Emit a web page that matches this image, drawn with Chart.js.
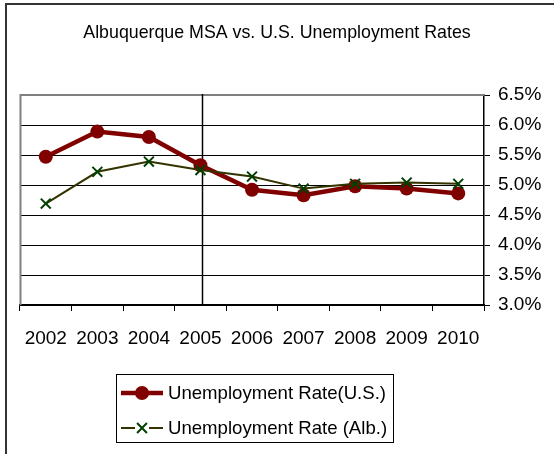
<!DOCTYPE html>
<html>
<head>
<meta charset="utf-8">
<script src="https://cdn.jsdelivr.net/npm/chart.js@4/dist/chart.umd.min.js"></script>
<style>
html,body{margin:0;padding:0;background:#fff;}
#wrap{width:554px;height:454px;position:relative;}
</style>
</head>
<body>
<div id="wrap"><canvas id="c" width="554" height="454"></canvas></div>
<script>
const years = ['2002','2003','2004','2005','2006','2007','2008','2009','2010'];
const usRate = [5.47, 5.89, 5.80, 5.33, 4.92, 4.83, 4.98, 4.94, 4.86];
const albRate = [4.69, 5.22, 5.39, 5.25, 5.14, 4.94, 5.02, 5.04, 5.02];
const yMin = 3.0, yMax = 6.5, yStep = 0.5;
const titleText = 'Albuquerque MSA vs. U.S. Unemployment Rates';
const usLabel = 'Unemployment Rate(U.S.)';
const albLabel = 'Unemployment Rate (Alb.)';
const markerYear = '2005';

const FONT = '"Liberation Sans", Arial, sans-serif';
const US_COLOR = '#800000';
const ALB_LINE = '#333300';
const ALB_MARK = '#004000';

const decor = {
  id: 'decor',
  beforeDatasetsDraw(chart) {
    const {ctx, chartArea: a, scales: {x}} = chart;
    ctx.save();
    ctx.strokeStyle = '#808080';
    ctx.lineWidth = 2;
    ctx.beginPath();
    ctx.moveTo(a.left + 0.5, a.bottom);
    ctx.lineTo(a.left + 0.5, a.top);
    ctx.lineTo(a.right, a.top);
    ctx.stroke();
    const px = Math.round(x.getPixelForValue(years.indexOf(markerYear))) + 2.5;
    ctx.strokeStyle = '#000';
    ctx.lineWidth = 1.5;
    ctx.beginPath();
    ctx.moveTo(px, a.top - 1);
    ctx.lineTo(px, a.bottom);
    ctx.stroke();
    ctx.restore();
  },
  afterDraw(chart) {
    const ctx = chart.ctx;
    ctx.save();
    // title
    ctx.fillStyle = '#000';
    ctx.font = '17.8px ' + FONT;
    ctx.textAlign = 'center';
    ctx.textBaseline = 'middle';
    ctx.fillText(titleText, 277, 33);
    // outer frame
    ctx.strokeStyle = '#333';
    ctx.lineWidth = 2;
    ctx.beginPath();
    ctx.moveTo(6, 454);
    ctx.lineTo(6, 4);
    ctx.lineTo(554, 4);
    ctx.stroke();
    // legend
    const bx = 116.5, by = 374.5, bw = 277, bh = 68;
    ctx.strokeStyle = '#000';
    ctx.lineWidth = 1;
    ctx.strokeRect(bx, by, bw, bh);
    const ds = chart.data.datasets;
    const rows = [393, 428];
    const lx0 = 121, lx1 = 163, mx = 142, tx = 168;
    ctx.strokeStyle = ds[0].borderColor;
    ctx.lineWidth = ds[0].borderWidth;
    ctx.beginPath(); ctx.moveTo(lx0, rows[0]); ctx.lineTo(lx1, rows[0]); ctx.stroke();
    ctx.fillStyle = ds[0].pointBackgroundColor;
    ctx.beginPath(); ctx.arc(mx, rows[0], ds[0].pointRadius, 0, Math.PI * 2); ctx.fill();
    ctx.strokeStyle = ds[1].borderColor;
    ctx.lineWidth = ds[1].borderWidth;
    ctx.beginPath(); ctx.moveTo(lx0, rows[1]); ctx.lineTo(mx - 7, rows[1]); ctx.moveTo(mx + 7, rows[1]); ctx.lineTo(lx1, rows[1]); ctx.stroke();
    const r = ds[1].pointRadius;
    ctx.strokeStyle = ds[1].pointBorderColor;
    ctx.lineWidth = ds[1].pointBorderWidth;
    const d = r * Math.SQRT1_2;
    ctx.beginPath();
    ctx.moveTo(mx - d, rows[1] - d); ctx.lineTo(mx + d, rows[1] + d);
    ctx.moveTo(mx + d, rows[1] - d); ctx.lineTo(mx - d, rows[1] + d);
    ctx.stroke();
    ctx.fillStyle = '#000';
    ctx.font = '18.6px ' + FONT;
    ctx.textBaseline = 'middle';
    ctx.textAlign = 'left';
    ctx.fillText(ds[0].label, tx, rows[0] + 1);
    ctx.fillText(ds[1].label, tx, rows[1] + 1);
    ctx.restore();
  }
};

new Chart(document.getElementById('c'), {
  type: 'line',
  data: {
    labels: years,
    datasets: [
      {
        label: usLabel,
        data: usRate,
        borderColor: US_COLOR,
        backgroundColor: US_COLOR,
        borderWidth: 4.5,
        pointStyle: 'circle',
        pointRadius: 7,
        pointBackgroundColor: US_COLOR,
        pointBorderColor: US_COLOR,
        pointBorderWidth: 0,
        tension: 0,
        order: 2
      },
      {
        label: albLabel,
        data: albRate,
        borderColor: ALB_LINE,
        backgroundColor: ALB_LINE,
        borderWidth: 2,
        pointStyle: 'crossRot',
        pointRadius: 7,
        pointBackgroundColor: ALB_MARK,
        pointBorderColor: ALB_MARK,
        pointBorderWidth: 2,
        tension: 0,
        order: 1
      }
    ]
  },
  options: {
    responsive: false,
    animation: false,
    layout: {padding: {left: 20, right: 0, top: 95, bottom: 0}},
    plugins: {
      legend: {display: false},
      tooltip: {enabled: false},
      title: {display: false}
    },
    scales: {
      x: {
        offset: true,
        grid: {offset: true, drawOnChartArea: false, drawTicks: true, tickLength: 6, color: '#000'},
        border: {color: '#000', width: 1.5},
        ticks: {color: '#000', font: {family: FONT, size: 19}, padding: 16, maxRotation: 0, autoSkip: false},
        afterFit(s) { s.height = 149; }
      },
      y: {
        position: 'right',
        min: yMin,
        max: yMax,
        grid: {color: '#000', tickLength: 6, lineWidth: 1},
        border: {color: '#000', width: 1.5},
        ticks: {
          stepSize: yStep,
          color: '#000',
          font: {family: FONT, size: 19},
          padding: 8,
          callback: v => v.toFixed(1) + '%'
        },
        afterFit(s) { s.width = 70; }
      }
    }
  },
  plugins: [decor]
});
</script>
</body>
</html>
